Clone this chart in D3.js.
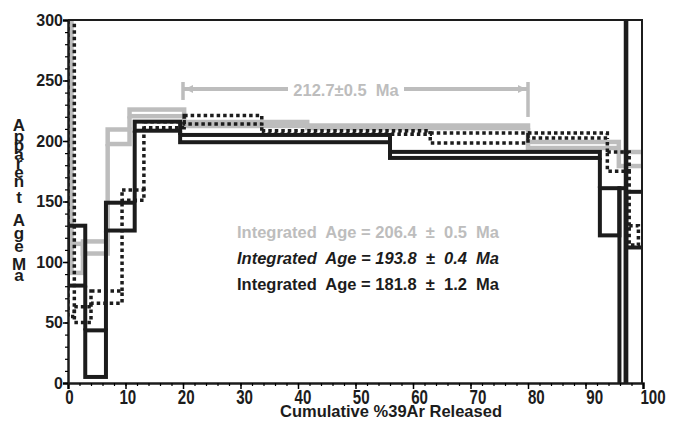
<!DOCTYPE html>
<html>
<head>
<meta charset="utf-8">
<script src="https://cdn.jsdelivr.net/npm/d3@7"></script>
<style>
  body { margin: 0; background: #fff; }
  svg { display: block; }
  text { font-family: "Liberation Sans", Arial, sans-serif; font-weight: bold; }
</style>
</head>
<body>
<div id="chart"></div>
<script>
// size of the page
const width = 677;
const height = 423;
const plot = { left: 68, right: 643, top: 20, bottom: 383 };

// tick labels
const xTicks = [0, 10, 20, 30, 40, 50, 60, 70, 80, 90, 100];
const yTicks = [0, 50, 100, 150, 200, 250, 300];

// step heating spectra: cumulative %39Ar at step edges, age low / high (Ma)
const grayCum = [0, 0.6, 2.6, 6.9, 10.7, 20.2, 41.6, 80.0, 95.8, 100];
const grayLo = [112, 91, 107, 197.5, 220.5, 212.4, 210.7, 194.2, 179.3];
const grayHi = [350, 115, 117, 209.5, 226, 215.7, 212.8, 199.2, 190.9];

const blackCum = [0, 3.0, 6.6, 11.6, 19.5, 56.0, 92.5, 95.9, 97.0, 97.1, 100];
const blackLo = [80.5, 5, 126, 208.5, 199, 186, 122, -20, -20, 112];
const blackHi = [130, 43.5, 149, 216, 205, 191, 161, 161, 400, 158];

const dotCum = [0, 1.1, 4.0, 9.4, 13.2, 20.2, 33.7, 63.0, 80.0, 93.8, 97.6, 99.2];
const dotLo = [55, 50, 66, 151, 211, 214, 205.5, 198.3, 202.5, 175, 114];
const dotHi = [340, 63, 76, 159.5, 216, 221, 208.5, 206.6, 206.6, 191, 130];

// plateau bracket
const plateauAge = 212.7;
const plateauErr = 0.5;
const plateauFrom = 20;
const plateauTo = 80;
const plateauBarAge = 243;

// integrated ages (gray, black italic, black)
const integratedAges = [206.4, 193.8, 181.8];
const integratedErrs = [0.5, 0.4, 1.2];

const grayColor = "#bdbdbd";
const blackColor = "#1c1c1c";

const x = d3.scaleLinear().domain([0, 100]).range([plot.left, plot.right]);
const y = d3.scaleLinear().domain([0, 300]).range([plot.bottom, plot.top]);

const svg = d3
  .select("#chart")
  .append("svg")
  .attr("width", width)
  .attr("height", height);

svg
  .append("clipPath")
  .attr("id", "clip")
  .append("rect")
  .attr("x", plot.left)
  .attr("y", plot.top)
  .attr("width", plot.right - plot.left)
  .attr("height", plot.bottom - plot.top);

// draw one spectrum as boxes, joining steps whose ranges do not touch
function drawSpectrum(cum, lo, hi, style) {
  const g = svg.append("g").attr("clip-path", "url(#clip)");
  const steps = lo.map((d, i) => ({ x0: cum[i], x1: cum[i + 1], lo: d, hi: hi[i] }));

  g.selectAll("rect")
    .data(steps)
    .enter()
    .append("rect")
    .attr("x", (d) => x(d.x0))
    .attr("y", (d) => y(d.hi))
    .attr("width", (d) => x(d.x1) - x(d.x0))
    .attr("height", (d) => y(d.lo) - y(d.hi))
    .attr("fill", "none")
    .attr("stroke", style.color)
    .attr("stroke-width", style.width)
    .attr("stroke-dasharray", style.dash);

  const joins = [];
  steps.slice(1).forEach((d, i) => {
    const p = steps[i];
    if (p.hi < d.lo) joins.push({ x: d.x0, a: p.hi, b: d.lo });
    else if (d.hi < p.lo) joins.push({ x: d.x0, a: d.hi, b: p.lo });
  });

  g.selectAll("line")
    .data(joins)
    .enter()
    .append("line")
    .attr("x1", (d) => x(d.x))
    .attr("x2", (d) => x(d.x))
    .attr("y1", (d) => y(d.a))
    .attr("y2", (d) => y(d.b))
    .attr("stroke", style.color)
    .attr("stroke-width", style.width)
    .attr("stroke-dasharray", style.dash);
}

drawSpectrum(grayCum, grayLo, grayHi, { color: grayColor, width: 4.5, dash: null });
drawSpectrum(blackCum, blackLo, blackHi, { color: blackColor, width: 4, dash: null });
drawSpectrum(dotCum, dotLo, dotHi, { color: blackColor, width: 3.5, dash: "3.5,3" });

// frame (top and right)
svg
  .append("path")
  .attr("d", `M${plot.left},${plot.top}H${plot.right - 1}V${plot.bottom}`)
  .attr("fill", "none")
  .attr("stroke", blackColor)
  .attr("stroke-width", 2);

// x axis
const xAxis = svg
  .append("g")
  .attr("transform", `translate(0,${plot.bottom})`)
  .call(d3.axisBottom(x).tickValues(xTicks).tickSize(6).tickPadding(0));
xAxis.select(".domain").attr("stroke-width", 2.5).attr("stroke", blackColor);
xAxis.selectAll(".tick line").attr("stroke-width", 1.5);
xAxis
  .selectAll("text")
  .attr("transform", (d) => `translate(${1 + d * 0.085},0) scale(0.72,1)`)
  .style("font-size", "21px")
  .attr("fill", blackColor);

svg
  .append("g")
  .attr("transform", `translate(0,${plot.bottom})`)
  .call(d3.axisBottom(x).tickValues(d3.range(0, 101, 2)).tickSize(3).tickFormat(""))
  .call((g) => g.select(".domain").remove())
  .selectAll(".tick line")
  .attr("stroke-width", 1.2);

// y axis
const yAxis = svg
  .append("g")
  .attr("transform", `translate(${plot.left},0)`)
  .call(d3.axisLeft(y).tickValues(yTicks).tickSize(5).tickPadding(0));
yAxis.select(".domain").attr("stroke-width", 2.5).attr("stroke", blackColor);
yAxis.selectAll(".tick line").attr("stroke-width", 1.5);
yAxis
  .selectAll("text")
  .style("font-size", "16px")
  .attr("fill", blackColor);

svg
  .append("g")
  .attr("transform", `translate(${plot.left},0)`)
  .call(d3.axisLeft(y).tickValues(d3.range(0, 301, 10)).tickSize(3).tickFormat(""))
  .call((g) => g.select(".domain").remove())
  .selectAll(".tick line")
  .attr("stroke-width", 1.2);

// axis titles
svg
  .append("text")
  .attr("x", 391)
  .attr("y", 417)
  .attr("text-anchor", "middle")
  .style("font-size", "16.5px")
  .attr("fill", blackColor)
  .text("Cumulative %39Ar Released");

// stacked letters of the y title
const yTitleLetters = "Apparent Age Ma".replace(/ /g, "").split("");
const yTitleBase = [131, 142, 151, 160, 169, 178, 187, 203, 226, 239, 252, 270, 281];
svg
  .append("g")
  .selectAll("text")
  .data(yTitleLetters)
  .enter()
  .append("text")
  .attr("x", 19)
  .attr("y", (d, i) => yTitleBase[i])
  .attr("text-anchor", "middle")
  .style("font-size", "17px")
  .attr("fill", blackColor)
  .text((d) => d);

// plateau bracket
const bar = svg.append("g").attr("stroke", grayColor).attr("fill", grayColor);
const by = y(plateauBarAge);
bar.append("line").attr("x1", x(plateauFrom)).attr("x2", 288).attr("y1", by).attr("y2", by).attr("stroke-width", 4);
bar.append("line").attr("x1", 404).attr("x2", x(plateauTo)).attr("y1", by).attr("y2", by).attr("stroke-width", 4);
bar.append("line").attr("x1", x(plateauFrom)).attr("x2", x(plateauFrom)).attr("y1", by - 7).attr("y2", by + 11).attr("stroke-width", 3.5);
bar.append("line").attr("x1", x(plateauTo)).attr("x2", x(plateauTo)).attr("y1", by - 7).attr("y2", by + 28).attr("stroke-width", 3.5);
bar.append("path").attr("stroke", "none")
  .attr("d", `M${x(plateauFrom) + 2},${by}l8,-4v8z`);
bar.append("path").attr("stroke", "none")
  .attr("d", `M${x(plateauTo) - 2},${by}l-8,-4v8z`);

svg
  .append("text")
  .attr("x", 346)
  .attr("y", 96)
  .attr("text-anchor", "middle")
  .style("font-size", "16.5px")
  .style("white-space", "pre")
  .attr("fill", grayColor)
  .text(`${plateauAge}±${plateauErr}  Ma`);

// integrated age labels
const labelColors = [grayColor, blackColor, blackColor];
const labelStyles = ["normal", "italic", "normal"];
svg
  .append("g")
  .selectAll("text")
  .data(integratedAges)
  .enter()
  .append("text")
  .attr("x", 237)
  .attr("y", (d, i) => 238 + i * 26)
  .style("font-size", "16.5px")
  .style("white-space", "pre")
  .style("font-style", (d, i) => labelStyles[i])
  .attr("fill", (d, i) => labelColors[i])
  .text((d, i) => `Integrated  Age = ${d.toFixed(1)}  ±  ${integratedErrs[i]}  Ma`);
</script>
</body>
</html>
